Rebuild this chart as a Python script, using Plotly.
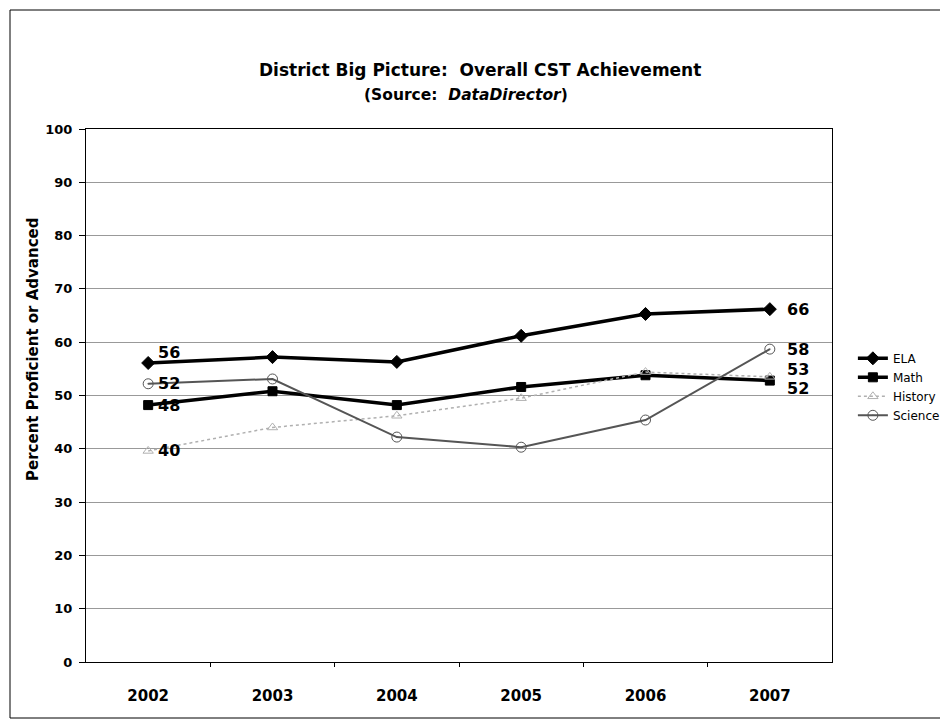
import plotly.graph_objects as go

years = [2002, 2003, 2004, 2005, 2006, 2007]
ela = [56.1, 57.2, 56.3, 61.2, 65.3, 66.2]
math_ = [48.2, 50.8, 48.2, 51.6, 53.8, 52.8]
history = [39.6, 44.0, 46.2, 49.5, 54.4, 53.5]
science = [52.2, 53.1, 42.2, 40.3, 45.4, 58.7]

# end-point labels as printed on the chart (first year, last year)
ela_lbl = ["56", "66"]
math_lbl = ["48", "52"]
history_lbl = ["40", "53"]
science_lbl = ["52", "58"]

FONT = "DejaVu Sans, Verdana, sans-serif"


def series(name, y, color, width, dash, symbol, msize, mline):
    return go.Scatter(
        x=years, y=y, name=name, mode="lines+markers",
        line=dict(color=color, width=width, dash=dash),
        marker=dict(symbol=symbol, size=msize, color=color,
                    line=dict(color=mline, width=1)),
        cliponaxis=False,
    )


fig = go.Figure()
fig.add_trace(series("ELA", ela, "black", 3.5, "solid", "diamond", 10, "black"))
fig.add_trace(series("Math", math_, "black", 3.5, "solid", "square", 9, "black"))
fig.add_trace(series("History", history, "#b0b0b0", 1.5, "dot",
                     "triangle-up-open", 9, "#999"))
fig.add_trace(series("Science", science, "#555555", 2, "solid",
                     "circle-open-dot", 10, "#444"))

# data labels: (values, labels, yshift at first point, yshift at last point)
label_sets = [
    (ela, ela_lbl, 10, 0),
    (math_, math_lbl, 0, -8),
    (history, history_lbl, 0, 7),
    (science, science_lbl, 0, 0),
]
annotations = []
for vals, lbls, ys0, ys1 in label_sets:
    for idx, lbl, xs, ys in ((0, lbls[0], 8, ys0), (-1, lbls[1], 15, ys1)):
        annotations.append(dict(
            x=years[idx], y=vals[idx], text=f"<b>{lbl}</b>",
            showarrow=False, xanchor="left", yanchor="middle",
            xshift=xs, yshift=ys, font=dict(size=16, color="black")))

annotations += [
    dict(text="<b>District Big Picture:  Overall CST Achievement</b>",
         xref="paper", yref="paper", x=(480 - 86) / 746,
         y=(662 - 70) / 533, showarrow=False,
         font=dict(size=17), yanchor="middle"),
    dict(text="<b>(Source:  <i>DataDirector</i>)</b>",
         xref="paper", yref="paper", x=(466 - 86) / 746,
         y=(662 - 95) / 533, showarrow=False,
         font=dict(size=15.5), yanchor="middle"),
    dict(text="<b>Percent Proficient or Advanced</b>",
         xref="paper", yref="paper", x=(33 - 86) / 746,
         y=(662 - 350) / 533, showarrow=False, textangle=-90,
         font=dict(size=15), xanchor="center", yanchor="middle"),
]

fig.update_layout(
    width=940, height=715,
    margin=dict(l=78, r=116, t=121, b=61, autoexpand=False),
    paper_bgcolor="white", plot_bgcolor="white",
    font=dict(family=FONT, color="black"),
    showlegend=True,
    legend=dict(x=1.028, y=0.597, xanchor="left", yanchor="top",
                font=dict(family=FONT, size=12), tracegroupgap=0,
                bgcolor="rgba(0,0,0,0)"),
    xaxis=dict(range=[2001.5, 2007.5], tickvals=years,
               ticktext=[f"<b>{y}</b>" for y in years],
               tickfont=dict(size=15), showgrid=False,
               showline=True, linecolor="black", mirror=True, ticks="",
               ticklabelstandoff=20, automargin=False,
               minor=dict(tickvals=[y + 0.5 for y in years[:-1]],
                          ticks="outside", ticklen=4, tickcolor="black")),
    yaxis=dict(range=[0, 100], dtick=10, tickfont=dict(size=13),
               tickprefix="<b>", ticksuffix="</b>",
               showgrid=True, gridcolor="#999", gridwidth=1,
               showline=True, linecolor="black", mirror=True,
               ticks="outside", ticklen=6, tickcolor="black",
               ticklabelstandoff=4, zeroline=False, automargin=False),
    shapes=[dict(type="rect", xref="paper", yref="paper",
                 x0=(10 - 86) / 746, x1=(946 - 86) / 746,
                 y0=(662 - 718) / 533, y1=(662 - 10) / 533,
                 line=dict(color="black", width=1))],
    annotations=annotations,
)

fig.write_html("out.html")
